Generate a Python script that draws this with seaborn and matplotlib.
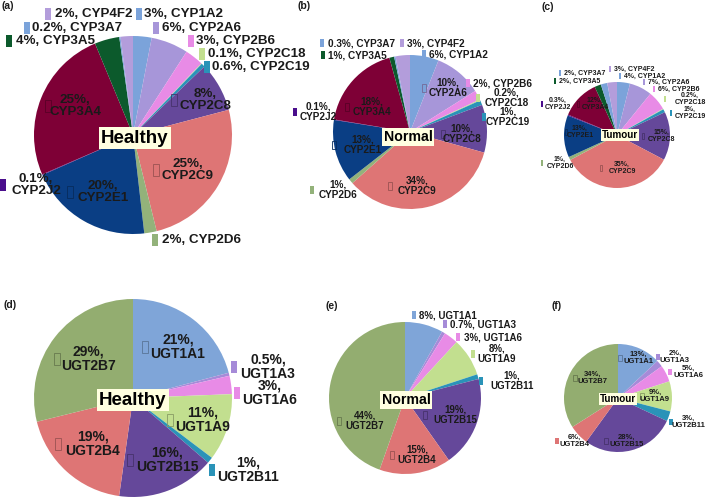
import matplotlib
matplotlib.use("Agg")
import matplotlib.pyplot as plt
import matplotlib.colors as mcolors
from matplotlib.patches import Rectangle
import seaborn as sns

sns.set_theme(style="white")
plt.rcParams['font.family'] = ['Liberation Sans', 'DejaVu Sans']

W, H = 709, 498

# CYP enzymes (% of total), clockwise from 12 o'clock
cyp_names = ['CYP1A2', 'CYP2A6', 'CYP2B6', 'CYP2C18', 'CYP2C19', 'CYP2C8', 'CYP2C9',
             'CYP2D6', 'CYP2E1', 'CYP2J2', 'CYP3A4', 'CYP3A5', 'CYP3A7', 'CYP4F2']
cyp_healthy = [3, 6, 3, 0.1, 0.6, 8, 25, 2, 20, 0.1, 25, 4, 0.2, 2]
cyp_normal = [6, 10, 2, 0.2, 1, 10, 34, 1, 13, 0.1, 18, 1, 0.3, 3]
cyp_tumour = [4, 7, 6, 0.2, 1, 15, 35, 1, 13, 0.3, 12, 2, 2, 3]
cyp_colors = sns.color_palette(['#7BA3DA', '#A796D9', '#E88BE6', '#C2DF8F', '#2A93B8',
                                '#65489A', '#DE7575', '#93B27A', '#0A3E84', '#4A0E8C',
                                '#7E0036', '#0C5A2C', '#7BA3DA', '#B39DDB'])

# UGT enzymes
ugt_names = ['UGT1A1', 'UGT1A3', 'UGT1A6', 'UGT1A9', 'UGT2B11', 'UGT2B15', 'UGT2B4', 'UGT2B7']
ugt_healthy = [21, 0.5, 3, 11, 1, 16, 19, 29]
ugt_normal = [8, 0.7, 3, 8, 1, 19, 15, 44]
ugt_tumour = [13, 2, 5, 9, 3, 28, 6, 34]
ugt_colors = sns.color_palette(['#7FA5D8', '#A68BD8', '#E88BE6', '#C2DF8F', '#2A93B8',
                                '#65489A', '#DE7575', '#93AD70'])

# label layout in pixels: (kind, text x, text y, key x)
lay_a = [('line', 144, 14, 139), ('line', 162, 28, 156), ('line', 196, 41, 191),
         ('line', 208, 54, 202), ('line', 212, 67, 207), ('in', 205, 100, 174),
         ('in', 188, 170, 156), ('line', 162, 240, 155), ('in', 103, 192, 70),
         ('out', 36, 185, 3), ('in', 75, 106, 48), ('line', 16, 41, 9),
         ('line', 32, 28, 27), ('line', 55, 14, 48)]
lay_b = [('line', 429, 54, 424), ('in', 448, 88, 424), ('line', 473, 83, 468),
         ('out', 507, 98, 478), ('out', 508, 117, 484), ('in', 462, 134, 443),
         ('in', 417, 186, 390), ('out', 338, 190, 312), ('in', 363, 145, 334),
         ('out', 318, 112, 295), ('in', 372, 107, 347), ('line', 328, 55, 323),
         ('line', 328, 43, 322), ('line', 407, 43, 402)]
lay_c = [('line', 624, 76, 620), ('line', 648, 82, 644), ('line', 658, 89, 654),
         ('out', 690, 99, 665), ('out', 690, 113, 671), ('in', 662, 136, 643),
         ('in', 622, 168, 601), ('out', 560, 163, 542), ('in', 580, 132, 566),
         ('out', 558, 104, 542), ('in', 595, 104, 578), ('line', 559, 81, 555),
         ('line', 564, 73, 560), ('line', 614, 69, 610)]
lay_d = [('in', 178, 347, 145), ('out', 268, 367, 234), ('out', 270, 393, 237),
         ('in', 203, 420, 170), ('out', 248, 470, 212), ('in', 167, 460, 130),
         ('in', 93, 444, 58), ('in', 88, 359, 57)]
lay_e = [('line', 419, 315, 414), ('line', 450, 324, 445), ('line', 464, 337, 458),
         ('out', 497, 354, 473), ('out', 512, 381, 481), ('in', 455, 415, 425),
         ('in', 417, 455, 392), ('in', 365, 421, 339)]
lay_f = [('in', 638, 358, 620), ('out', 675, 357, 658), ('out', 688, 372, 670),
         ('in', 655, 396, 642), ('out', 688, 422, 671), ('in', 627, 441, 606),
         ('out', 574, 441, 557), ('in', 593, 378, 575)]

panels = [
    ('(a)', (1, 6), cyp_names, cyp_healthy, cyp_colors, (133, 135), 99, 'Healthy', (135, 138), 13.5, 9.6, lay_a),
    ('(b)', (298, 6), cyp_names, cyp_normal, cyp_colors, (410, 132), 77, 'Normal', (408, 137), 10.2, 7.2, lay_b),
    ('(c)', (542, 7), cyp_names, cyp_tumour, cyp_colors, (617, 135), 53, 'Tumour', (620, 135), 7.1, 5.0, lay_c),
    ('(d)', (3, 305), ugt_names, ugt_healthy, ugt_colors, (133, 398), 99, 'Healthy', (133, 400), 13.5, 10.0, lay_d),
    ('(e)', (325, 306), ugt_names, ugt_normal, ugt_colors, (405, 398), 76, 'Normal', (406, 400), 10.2, 7.0, lay_e),
    ('(f)', (552, 306), ugt_names, ugt_tumour, ugt_colors, (618, 398), 54, 'Tumour', (618, 399), 7.1, 5.5, lay_f),
]

fig = plt.figure(figsize=(W / 100, H / 100), dpi=100)
fig.patch.set_facecolor('white')

lab = fig.add_axes([0, 0, 1, 1], zorder=10)
lab.set_xlim(0, W)
lab.set_ylim(H, 0)
lab.axis('off')
lab.patch.set_alpha(0)

tc = '#1a1a1a'

for tag, tag_xy, names, vals, colors, (cx, cy), r, title, title_xy, title_fs, fs, layout in panels:
    ax = fig.add_axes([(cx - r) / W, 1 - (cy + r) / H, 2 * r / W, 2 * r / H])
    ax.pie(vals, colors=colors, startangle=90, counterclock=False, radius=1,
           wedgeprops=dict(linewidth=0))
    ax.set_xlim(-1, 1)
    ax.set_ylim(-1, 1)
    ax.axis('off')

    lab.text(tag_xy[0], tag_xy[1], tag, ha='left', va='center', fontsize=7.5,
             fontweight='bold', color=tc)

    fpx = fs * 100 / 72
    kw, kh = 0.42 * fpx, 0.85 * fpx
    for (kind, tx, ty, kx), name, val, col in zip(layout, names, vals, colors):
        pct = f"{val:g}%,"
        if kind == 'line':
            lab.text(tx, ty, f"{pct} {name}", ha='left', va='center', fontsize=fs,
                     fontweight='bold', color=tc)
        else:
            lab.text(tx, ty, f"{pct}\n{name}", ha='center', va='center', fontsize=fs,
                     fontweight='bold', color=tc, linespacing=1.05, multialignment='center')
        if kind == 'in':
            dark = tuple(c * 0.7 for c in mcolors.to_rgb(col))
            lab.add_patch(Rectangle((kx - kw / 2, ty - kh / 2), kw, kh, fill=False,
                                    edgecolor=dark, lw=0.6))
        else:
            lab.add_patch(Rectangle((kx - kw / 2, ty - kh / 2), kw, kh,
                                    facecolor=col, edgecolor='none'))

    lab.text(title_xy[0], title_xy[1], title, ha='center', va='center', fontsize=title_fs,
             fontweight='bold', color='black',
             bbox=dict(boxstyle='square,pad=0.12', fc='#FFFFE0', ec='none'))

fig.savefig('out.png', dpi=100)
